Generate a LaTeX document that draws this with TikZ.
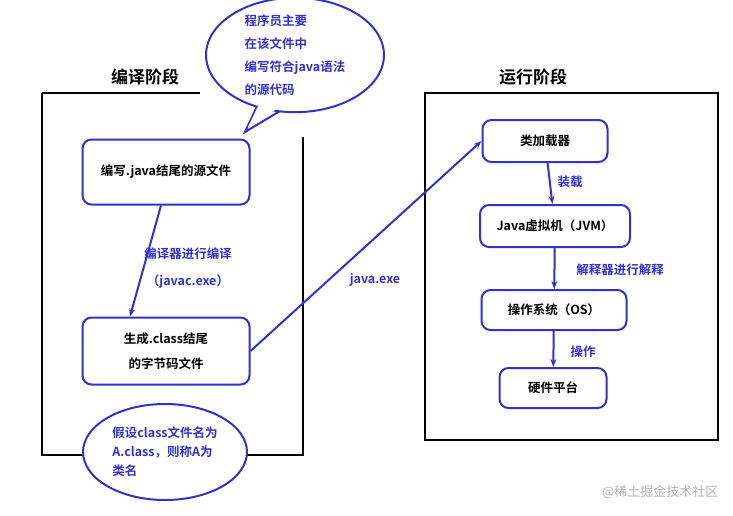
\documentclass[tikz,border=0pt]{standalone}
\usepackage{fontspec}
\setmainfont{Noto Sans CJK SC}[BoldFont={Noto Sans CJK SC Bold}]
\usetikzlibrary{arrows.meta,shapes.geometric}
\definecolor{bl}{RGB}{50,50,200}
\newcommand{\tx}{\fontsize{12.5}{19}\selectfont\bfseries}
\tikzset{
 box/.style={draw=bl,line width=2pt,rounded corners=9pt,fill=white,font=\tx,align=center},
 frame/.style={draw=black,line width=2pt},
 conn/.style={draw=bl,line width=2pt,-{Stealth[length=8pt]}},
 lbl/.style={text=bl,font=\tx,align=center},
 bub/.style={ellipse,draw=bl,line width=2pt,fill=white,text=bl,font=\tx,align=left,inner sep=0pt}
}
\begin{document}
\begin{tikzpicture}[x=1pt,y=-1pt]
\useasboundingbox[fill=white] (0,0) rectangle (733,515);
% left frame
\draw[frame] (42,93) -- (200,93);
\draw[frame] (42,93) -- (42,455) -- (90,455);
\draw[frame] (230,455) -- (303,455) -- (303,137);
\node[font=\fontsize{17}{20}\selectfont\bfseries] (t1) at (145,77) {编译阶段};
% right frame
\draw[frame] (425,93) rectangle (718,440);
\node[font=\fontsize{17}{20}\selectfont\bfseries] (t2) at (533,77) {运行阶段};
% callout
\draw[draw=bl,line width=2pt,fill=white] (260,100) -- (245,132) -- (285,108) -- cycle;
\node[bub,minimum width=178pt,minimum height=110pt,font=\fontsize{12.5}{23}\selectfont\bfseries] (c) at (295,55) {程序员主要\\在该文件中\\编写符合java语法\\的源代码};
\fill[white] (262,98) -- (248,127) -- (283,105) -- cycle;
% nodes
\node[box,minimum width=167pt,minimum height=65pt] (src) at (166,172) {编写.java结尾的源文件};
\node[box,minimum width=167pt,minimum height=67pt,font=\fontsize{12.5}{25}\selectfont\bfseries] (cls) at (166,351) {生成.class结尾\\的字节码文件};
\node[bub,minimum width=164pt,minimum height=96pt] (e) at (165,452) {假设class文件名为\\A.class，则称A为\\类名};
\node[box,minimum width=125pt,minimum height=42pt] (cl) at (545,141) {类加载器};
\node[box,minimum width=150pt,minimum height=42pt] (jvm) at (555,226) {Java虚拟机（JVM）};
\node[box,minimum width=145pt,minimum height=40pt] (os) at (554,310) {操作系统（OS）};
\node[box,minimum width=107pt,minimum height=40pt] (hw) at (553,388) {硬件平台};
% connectors
\draw[conn] (src.south) ++(-5,0) coordinate (s1) -- (cls.north -| 130,0) coordinate (s2);
\draw[conn] (cls.east) -- (cl.west);
\draw[conn] (cl) -- (jvm);
\draw[conn] (jvm) -- (os);
\draw[conn] (os) -- (hw);
\node[lbl,font=\fontsize{12.5}{27}\selectfont\bfseries] (l1) at (188,268) {编译器进行编译\\（javac.exe）};
\node[lbl] (l2) at (375,280) {java.exe};
\node[lbl] (l3) at (570,182) {装载};
\node[lbl] (l4) at (620,270) {解释器进行解释};
\node[lbl] (l5) at (583,352) {操作};
\node[text=gray!60,font=\fontsize{13}{15}\selectfont,anchor=east] (wm) at (722,492) {@稀土掘金技术社区};
\end{tikzpicture}
\end{document}
